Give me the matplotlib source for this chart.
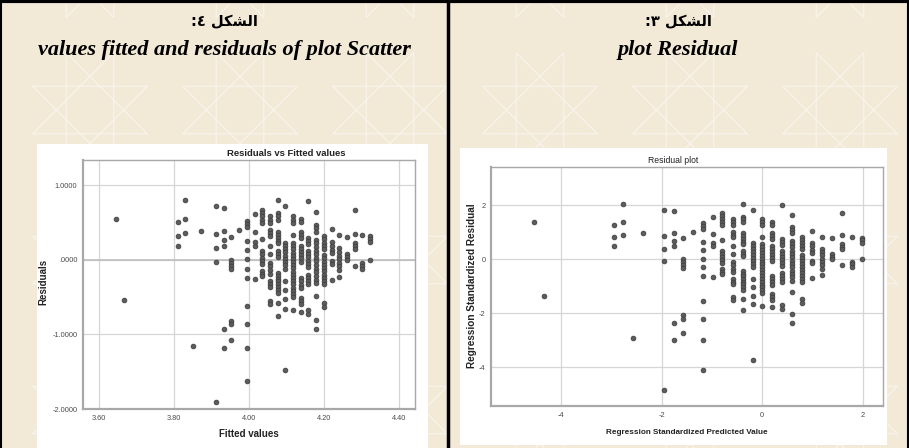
import numpy as np
import matplotlib
matplotlib.use("Agg")
import matplotlib.pyplot as plt
from matplotlib.patches import Rectangle
from matplotlib.lines import Line2D

W, H = 909, 448

# SPSS saved values: standardized predicted value (one per column of points)
zpred_levels = [-4.53, -4.33, -2.95, -2.76, -2.56, -2.36, -1.96, -1.76, -1.57, -1.38,
                -1.18, -0.98, -0.79, -0.59, -0.39, -0.19, 0.0, 0.2, 0.4, 0.6,
                0.79, 0.99, 1.19, 1.39, 1.59, 1.78, 1.98]
# standardized residuals in each column
zresid_by_level = [
    [1.38],
    [-1.37],
    [1.28, 0.80, 0.48],
    [2.03, 1.38, 0.91],
    [-2.94],
    [0.98],
    [1.81, 0.86, 0.38, -0.07, -4.85],
    [1.77, 0.98, 0.67, 0.48, -2.36, -3.0],
    [0.77, 0.0, -0.11, -0.22, -0.33, -2.07, -2.2, -2.73],
    [1.02],
    [1.32, 1.22, 1.12, 0.65, 0.33, 0.02, -0.31, -0.62, -1.57, -2.2, -3.0, -4.11],
    [1.56, 0.93, 0.6, 0.48, -0.67],
    [1.69, 1.58, 1.47, 1.36, 1.25, 0.70, 0.30, 0.19, 0.07, -0.04, -0.15, -0.37, -0.47, -0.57],
    [1.47, 1.36, 1.26, 1.01, 0.91, 0.81, 0.48, 0.19, -0.11, -0.23, -0.36, -0.48, -0.73, -0.84,
     -0.94, -1.40, -1.52],
    [2.04, 1.57, 1.47, 1.36, 0.95, 0.85, 0.75, 0.65, 0.56, 0.30, 0.20, 0.10, -0.44, -0.54,
     -0.64, -0.74, -0.84, -0.94, -1.04, -1.14, -1.46, -1.90],
    [1.81, 0.58, 0.47, 0.36, 0.25, 0.14, 0.03, -0.08, -0.19, -0.31, -0.72, -1.02, -1.35, -1.67,
     -3.74],
    [1.47, 1.36, 1.26, 0.83, 0.56, 0.45, 0.35, 0.24, 0.13, 0.02, -0.09, -0.19, -0.30, -0.41,
     -0.52, -0.62, -0.73, -0.84, -0.95, -1.05, -1.16, -1.27, -1.72],
    [1.38, 1.28, 0.95, 0.85, 0.75, 0.48, 0.37, 0.26, 0.15, 0.04, -0.07, -0.63, -0.74, -0.85,
     -0.96, -1.30, -1.41, -1.52, -1.77],
    [2.0, 0.73, 0.63, 0.53, 0.30, 0.19, 0.08, -0.03, -0.14, -0.26, -0.53, -0.63, -0.73, -0.83,
     -1.71, -1.83],
    [1.63, 1.17, 1.06, 0.95, 0.68, 0.56, 0.44, 0.31, 0.19, 0.07, -0.06, -0.18, -0.31, -0.43,
     -0.55, -0.68, -0.80, -1.23, -2.04, -2.36],
    [0.80, 0.69, 0.58, 0.47, 0.36, 0.15, 0.04, -0.07, -0.18, -0.29, -0.40, -0.51, -0.62, -0.73,
     -0.84, -1.48, -1.62],
    [1.04, 0.60, 0.47, 0.34, 0.21, -0.06, -0.16, -0.69],
    [0.83, 0.38, 0.26, 0.14, 0.02, -0.11, -0.23, -0.35, -0.60],
    [0.77, 0.19, 0.09, -0.01],
    [1.69, 0.88, 0.56, 0.46, 0.36, -0.22],
    [0.83, -0.10, -0.20, -0.31],
    [0.79, 0.69, 0.59, -0.01],
]
# model values to get back the unstandardized fitted values / residuals
fit_mean, fit_sd, resid_se = 4.117, 0.1043, 0.394

fit_ticks = [3.60, 3.80, 4.00, 4.20, 4.40]
res_ticks = [1.0, 0.0, -1.0, -2.0]
res_labels = ["1.0000", ".0000", "-1.0000", "-2.0000"]
z_xticks = [-4, -2, 0, 2]
z_yticks = [2, 0, -2, -4]

headers = [("الشكل", "٤", "values fitted and residuals of plot Scatter"),
           ("الشكل", "٣", "plot Residual")]

zpred = np.concatenate([[z] * len(r) for z, r in zip(zpred_levels, zresid_by_level)])
zresid = np.concatenate(zresid_by_level)
fitted = fit_mean + fit_sd * zpred
resid = resid_se * zresid

# arabic shaping by hand (matplotlib does no joining / bidi)
FORMS = {"ا": ("\uFE8D", "\uFE8E", None, None),
         "ل": ("\uFEDD", "\uFEDE", "\uFEDF", "\uFEE0"),
         "ش": ("\uFEB5", "\uFEB6", "\uFEB7", "\uFEB8"),
         "ك": ("\uFED9", "\uFEDA", "\uFEDB", "\uFEDC")}

def shape_ar(word):
    out = []
    for i, ch in enumerate(word):
        prev_joins = i > 0 and FORMS[word[i - 1]][2] is not None
        next_joins = i < len(word) - 1 and FORMS[ch][2] is not None
        iso, fin, ini, med = FORMS[ch]
        if prev_joins and next_joins:
            out.append(med)
        elif prev_joins:
            out.append(fin)
        elif next_joins:
            out.append(ini)
        else:
            out.append(iso)
    return "".join(reversed(out))

def frac(x0, y0, x1, y1):
    return [x0 / W, 1 - y1 / H, (x1 - x0) / W, (y1 - y0) / H]

def fig_line(xs, ys, **kw):
    fig.add_artist(Line2D([x / W for x in xs], [1 - y / H for y in ys],
                          transform=fig.transFigure, **kw))

bg = "#f2e9d7"
fig = plt.figure(figsize=(W / 100, H / 100), dpi=100, facecolor=bg)

# faint star lattice of the page background
ang = np.arange(8) * np.pi / 4 + np.pi / 8
for cx in range(-60, W + 120, 150):
    for cy in range(-40, H + 120, 150):
        px = cx + 62 * np.cos(ang)
        py = cy + 62 * np.sin(ang)
        order = [(k * 3) % 8 for k in range(9)]
        fig_line(px[order], py[order], color="#f8f3ea", lw=1.0, zorder=-10)

# white chart pictures pasted in the table cells
for x0, y0, x1, y1 in [(37, 144, 428, 448), (460, 148, 887, 445)]:
    b = frac(x0, y0, x1, y1)
    fig.patches.append(Rectangle((b[0], b[1]), b[2], b[3], transform=fig.transFigure,
                                 facecolor="white", edgecolor="none", zorder=-5))

# table borders
for xs, ys, lw in [([0, W], [1, 1], 3), ([0.5, 0.5], [0, H], 1.5),
                   ([448, 448], [0, H], 2.5), ([908, 908], [0, H], 1.5)]:
    fig_line(xs, ys, color="black", lw=lw)

# headers
for (word, digit, eng), cx in zip(headers, [224, 678]):
    fig.text(cx / W, 1 - 22 / H, ":" + digit + " " + shape_ar(word), ha="center", va="center",
             fontsize=10.5, fontweight="bold", family="DejaVu Sans")
    fig.text(cx / W, 1 - 50 / H, eng, ha="center", va="center", fontsize=16,
             fontweight="bold", style="italic", family="Liberation Serif")

def style(ax):
    ax.set_facecolor("white")
    ax.grid(True, color="#d6d6d6", lw=0.9)
    ax.set_axisbelow(True)
    ax.tick_params(length=0, labelsize=5.3, labelcolor="#4a4a4a", pad=4)
    for s in ax.spines.values():
        s.set_color("#a8a8a8")
        s.set_linewidth(1.0)
    for s in ["left", "bottom"]:
        ax.spines[s].set_linewidth(1.6)
    for lab in ax.get_xticklabels() + ax.get_yticklabels():
        lab.set_family("Liberation Sans")

mk = dict(s=12, c="#5c5c5c", edgecolors="#3a3a3a", linewidths=0.5, zorder=3)

# left: residuals vs fitted values
ax1 = fig.add_axes(frac(83, 160, 415, 409))
ax1.scatter(fitted, resid, **mk)
ax1.set_xlim(3.557, 4.443)
ax1.set_ylim(-2.0, 1.335)
ax1.set_xticks(fit_ticks, [f"{t:.2f}" for t in fit_ticks])
ax1.set_yticks(res_ticks, res_labels)
ax1.axhline(0, color="#bdbdbd", lw=1.2, zorder=1)
style(ax1)
fig.text(286 / W, 1 - 154 / H, "Residuals vs Fitted values", ha="center", va="center",
         fontsize=6.8, family="Liberation Sans", fontweight="bold", color="#222222")
fig.text(249 / W, 1 - 434 / H, "Fitted values", ha="center", va="center",
         fontsize=7, family="Liberation Sans", fontweight="bold", color="#222222")
fig.text(43 / W, 1 - 282 / H, "Residuals", ha="center", va="center", rotation=90,
         fontsize=7, family="Liberation Sans", fontweight="bold", color="#222222")

# right: standardized residual plot
ax2 = fig.add_axes(frac(491, 167, 883, 406))
ax2.scatter(zpred, zresid, **mk)
ax2.set_xlim(-5.39, 2.40)
ax2.set_ylim(-5.44, 3.41)
ax2.set_xticks(z_xticks, [str(t) for t in z_xticks])
ax2.set_yticks(z_yticks, [str(t) for t in z_yticks])
style(ax2)
fig.text(673 / W, 1 - 160 / H, "Residual plot", ha="center", va="center",
         fontsize=6.2, family="Liberation Sans", color="#222222")
fig.text(687 / W, 1 - 432 / H, "Regression Standardized Predicted Value", ha="center",
         va="center", fontsize=5.9, family="Liberation Sans", fontweight="bold",
         color="#222222")
fig.text(472 / W, 1 - 286 / H, "Regression Standardized Residual", ha="center", va="center",
         rotation=90, fontsize=7.2, family="Liberation Sans", fontweight="bold",
         color="#222222")

fig.savefig("out.png", dpi=100, facecolor=bg)
